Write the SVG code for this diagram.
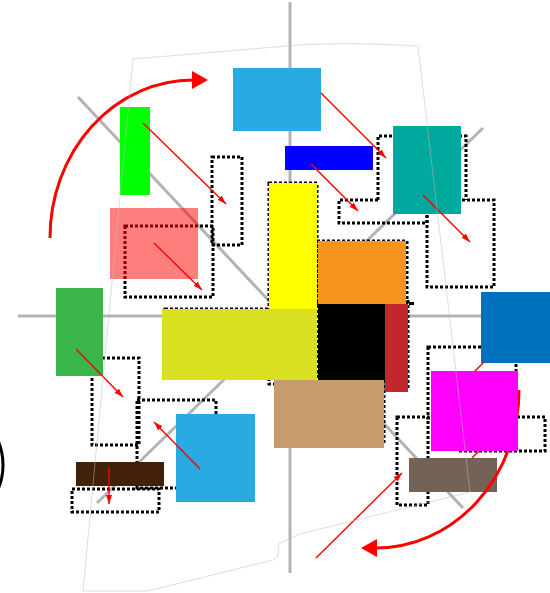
<svg xmlns="http://www.w3.org/2000/svg" width="550" height="593" viewBox="0 0 550 593">
<style>
.axis{stroke:#b3b3b3;stroke-width:3;fill:none}
.target{fill:none;stroke:#000;stroke-width:3;stroke-dasharray:3 2}
.move{stroke:#ff0000;stroke-width:1.4;fill:none;marker-end:url(#small)}
.turn{stroke:#ff0000;stroke-width:3;fill:none;marker-end:url(#big)}
.outline{fill:none;stroke:#bdbdbd;stroke-width:1;opacity:0.5}
</style>
<defs>
<marker id="small" markerUnits="userSpaceOnUse" markerWidth="10" markerHeight="6" refX="9" refY="3" orient="auto"><path d="M0,0 L9,3 L0,6 z" fill="#ff0000"/></marker>
<marker id="big" markerUnits="userSpaceOnUse" markerWidth="17" markerHeight="18" refX="1" refY="9" orient="auto"><path d="M0,0 L16,9 L0,18 z" fill="#ff0000"/></marker>
</defs>
<rect width="550" height="593" fill="#fff"/>
<g id="axes">
<line class="axis" x1="290" y1="2" x2="290" y2="573"/>
<line class="axis" x1="18" y1="316" x2="550" y2="316"/>
<line class="axis" x1="78" y1="97" x2="463" y2="508"/>
<line class="axis" x1="97" y1="503" x2="483" y2="128"/>
</g>
<g id="ring"><circle cx="-57" cy="465" r="60" fill="none" stroke="#000" stroke-width="3"/></g>
<g id="targets">
<rect class="target" x="212" y="157" width="30" height="88"/>
<rect class="target" x="125" y="226" width="88" height="71"/>
<path class="target" d="M378,200 V136 H466 V200"/>
<path class="target" d="M378,200 H339 V223 H427 V200"/>
<rect class="target" x="427" y="200" width="67" height="87"/>
<rect class="target" x="92" y="358" width="47" height="87"/>
<rect class="target" x="137" y="400" width="79" height="88"/>
<rect class="target" x="72" y="489" width="87" height="23"/>
<rect class="target" x="428" y="347" width="88" height="71"/>
<rect class="target" x="457" y="417" width="88" height="34"/>
<rect class="target" x="397" y="417" width="31" height="88"/>
<rect class="target" x="269" y="183" width="48" height="201"/>
<rect class="target" x="317" y="241" width="90" height="63"/>
<rect class="target" x="165" y="309" width="150" height="68"/>
<rect class="target" x="383" y="300" width="25" height="90"/>
<rect class="target" x="277" y="372" width="107" height="73"/>
<rect x="409" y="302" width="5" height="3" fill="#000"/>
</g>
<g id="node-blue-top"><rect x="233" y="68" width="88" height="63" fill="#29abe2"/></g>
<g id="node-green"><rect x="120" y="107" width="30" height="88" fill="#00ff00"/></g>
<g id="node-pink"><rect x="110" y="208" width="88" height="71" fill="#ff0000" opacity="0.5"/></g>
<g id="node-darkblue"><rect x="285" y="146" width="88" height="24" fill="#0000ff"/></g>
<g id="node-teal"><rect x="393" y="126" width="68" height="88" fill="#00a99d"/></g>
<g id="node-yellow"><rect x="269" y="183" width="48" height="127" fill="#ffff00"/></g>
<g id="node-orange"><rect x="318" y="241" width="88" height="63" fill="#f7931e"/></g>
<g id="node-olive"><rect x="162" y="309" width="155" height="71" fill="#d9e021"/></g>
<g id="node-black"><rect x="318" y="304" width="67" height="76" fill="#000"/></g>
<g id="node-red"><rect x="385" y="304" width="23" height="88" fill="#c1272d"/></g>
<g id="node-tan"><rect x="274" y="380" width="110" height="68" fill="#c69c6d"/></g>
<g id="node-green2"><rect x="56" y="288" width="47" height="88" fill="#39b54a"/></g>
<g id="node-blue-bottom"><rect x="176" y="414" width="79" height="88" fill="#29abe2"/></g>
<g id="node-brown"><rect x="76" y="462" width="88" height="24" fill="#42210b"/></g>
<g id="node-blue-right"><rect x="481" y="292" width="88" height="71" fill="#0071bc"/></g>
<g id="node-grey"><rect x="409" y="458" width="88" height="34" fill="#736357"/></g>
<g id="connectors">
<line class="move" x1="143" y1="123" x2="226" y2="204"/>
<line class="move" x1="154" y1="243" x2="202" y2="290"/>
<line class="move" x1="321" y1="93" x2="386" y2="158"/>
<line class="move" x1="311" y1="164" x2="358" y2="211"/>
<line class="move" x1="423" y1="195" x2="470" y2="242"/>
<line class="move" x1="76" y1="349" x2="123" y2="397"/>
<line class="move" x1="200" y1="469" x2="154" y2="422"/>
<line class="move" x1="109" y1="467" x2="109" y2="504"/>
<line class="move" x1="484" y1="362" x2="455" y2="391"/>
<line class="move" x1="472" y1="458" x2="495" y2="435"/>
<line class="move" x1="316" y1="558" x2="402" y2="473"/>
<path class="turn" d="M50,238 A143,158 0 0 1 193,80"/>
<path class="turn" d="M519,390 A143,158 0 0 1 376,548"/>
</g>
<g id="node-magenta"><rect x="431" y="371" width="87" height="80" fill="#ff00ff"/></g>
<g id="frame"><path class="outline" d="M133,59 L275,47 Q330,41 418,46 L470,492 L300,534 L278,544 Q281,556 273,560 L148,591 L83,591 Z"/></g>
</svg>
